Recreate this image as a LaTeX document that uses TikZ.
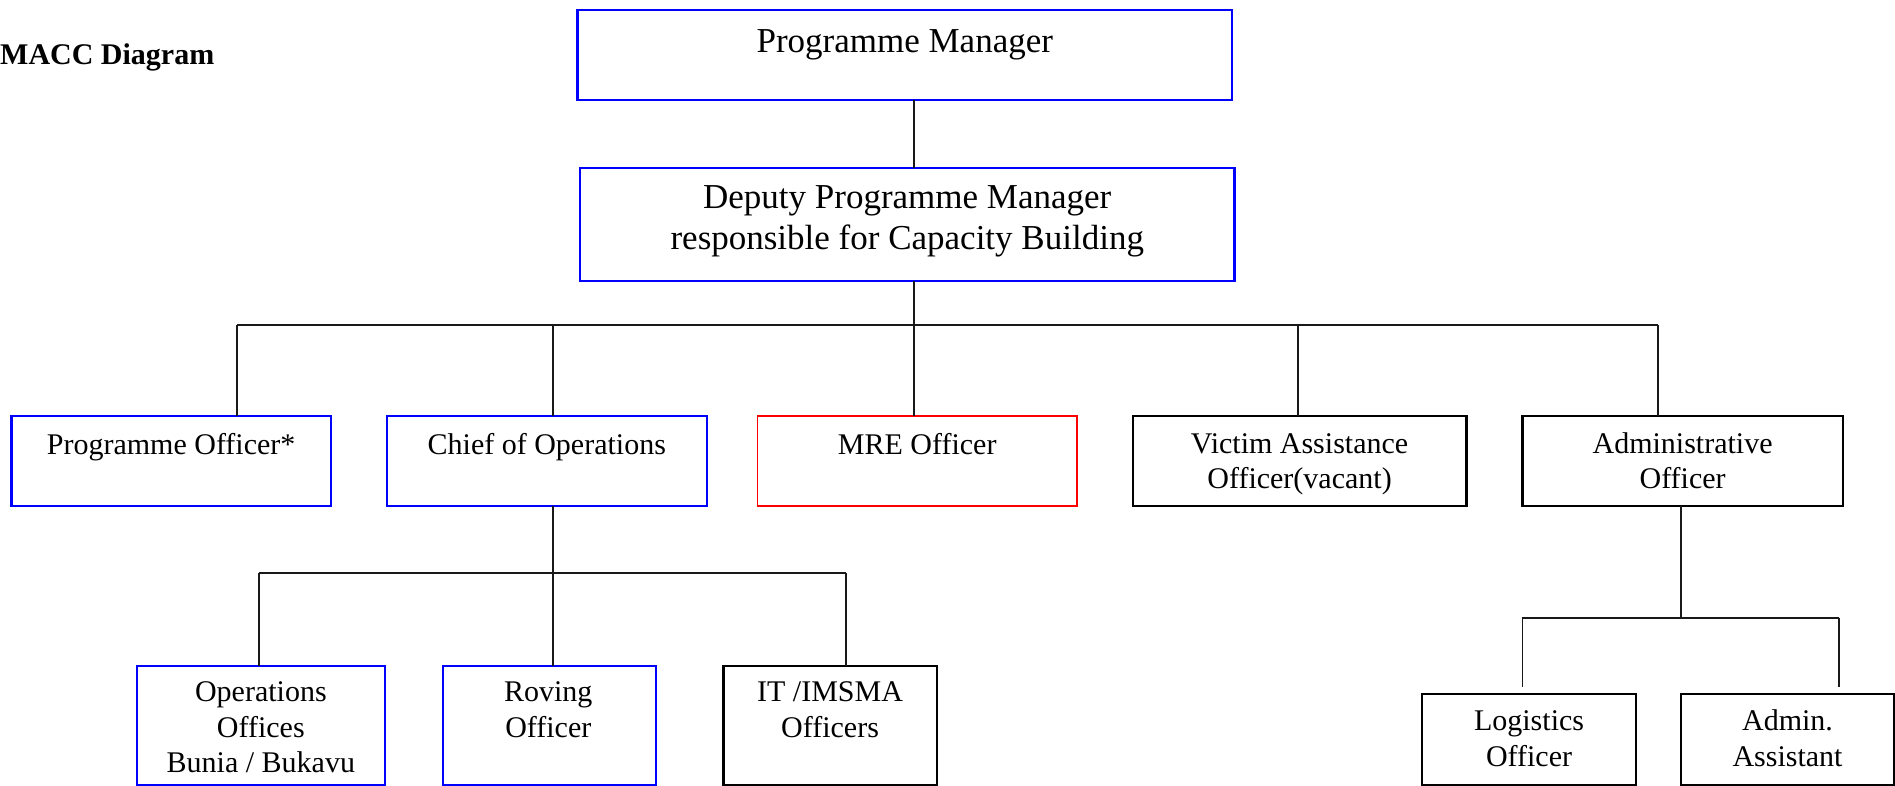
\documentclass[tikz,border=0pt]{standalone}
\usepackage{fontspec}
\setmainfont{Liberation Serif}
\usetikzlibrary{calc}

\begin{document}
\begin{tikzpicture}[x=1pt,y=-1pt,
  box/.style={draw=#1, line width=2.2pt, rectangle, inner sep=0pt, outer sep=0pt},
  box/.default=black,
  conn/.style={draw=black!90, line width=1.8pt},
  big/.style={font=\fontsize{35}{42}\selectfont, align=center, inner sep=0pt, anchor=base},
  mid/.style={font=\fontsize{30}{35}\selectfont, align=center, inner sep=0pt, anchor=base},
  low/.style={font=\fontsize{30}{35.5}\selectfont, align=center, inner sep=0pt, anchor=base},
]
\useasboundingbox (0,0) rectangle (1895,786);

% title
\node[anchor=base west, inner sep=0pt, font=\bfseries\fontsize{30}{36}\selectfont] (title) at (0,65) {MACC Diagram};

% top level (text nodes are placed by the baseline of their last line)
\node[box=blue, minimum width=654.5pt, minimum height=90pt] (pm) at (904.75,54.7) {};
\node[big] (pm-t) at ($(pm.north)+(0,43)$) {Programme Manager};

\node[box=blue, minimum width=654.5pt, minimum height=113pt] (dpm) at (907.25,224.2) {};
\node[big, font=\fontsize{35}{41.7}\selectfont] (dpm-t) at ($(dpm.north)+(0,82.3)$) {Deputy Programme Manager\\responsible for Capacity Building};

% second level
\node[box=blue, minimum width=319.3pt, minimum height=90.3pt] (po) at (171.15,460.85) {};
\node[mid] (po-t) at ($(po.north)+(0,38.3)$) {Programme Officer*};

\node[box=blue, minimum width=320.4pt, minimum height=90.3pt] (coo) at (546.8,460.85) {};
\node[mid] (coo-t) at ($(coo.north)+(0,38.3)$) {Chief of Operations};

\node[box=red, line width=1.8pt, minimum width=319.6pt, minimum height=90.3pt] (mre) at (917.2,460.85) {};
\node[mid] (mre-t) at ($(mre.north)+(0,38.3)$) {MRE Officer};

\node[box, minimum width=333.9pt, minimum height=90.3pt] (va) at (1299.55,460.85) {};
\node[mid] (va-t) at ($(va.north)+(0,73)$) {Victim Assistance\\Officer(vacant)};

\node[box, minimum width=320.2pt, minimum height=90.3pt] (ao) at (1682.6,460.85) {};
\node[mid] (ao-t) at ($(ao.north)+(0,73)$) {Administrative\\Officer};

% third level under Chief of Operations
\node[box=blue, minimum width=247.7pt, minimum height=119.8pt] (ops) at (260.85,725.6) {};
\node[low] (ops-t) at ($(ops.north)+(0,107)$) {Operations\\Offices\\Bunia / Bukavu};

\node[box=blue, minimum width=212.6pt, minimum height=119.8pt] (rov) at (549.3,725.6) {};
\node[low] (rov-t) at ($(rov.north)+(-1,71.5)$) {Roving\\Officer};

\node[box, minimum width=213.3pt, minimum height=119.8pt] (it) at (830.05,725.6) {};
\node[low] (it-t) at ($(it.north)+(0,71.5)$) {IT /IMSMA\\Officers};

% third level under Administrative Officer
\node[box, minimum width=213.7pt, minimum height=91.2pt] (log) at (1529.05,739.9) {};
\node[low, font=\fontsize{30}{36}\selectfont] (log-t) at ($(log.north)+(0,72.4)$) {Logistics\\Officer};

\node[box, minimum width=213pt, minimum height=91.2pt] (adm) at (1787.5,739.9) {};
\node[low, font=\fontsize{30}{36}\selectfont] (adm-t) at ($(adm.north)+(0,72.4)$) {Admin.\\Assistant};

% connector columns and bus levels
\coordinate (tr) at (913.6,0);
\coordinate (xpo) at (237,0);
\coordinate (xcoo) at (552.6,0);
\coordinate (xva) at (1297.8,0);
\coordinate (xao) at (1658,0);
\coordinate (xops) at (259.3,0);
\coordinate (xit) at (845.8,0);
\coordinate (xadm) at (1680.6,0);
\coordinate (xlog) at (1522.4,0);
\coordinate (xasst) at (1838.9,0);
\coordinate (b1) at (0,325);
\coordinate (b2) at (0,573.3);
\coordinate (b3) at (0,617.7);

% top to deputy
\draw[conn] (pm.south -| tr) -- (dpm.north -| tr);

% deputy to second level
\draw[conn] (dpm.south -| tr) -- (b1 -| tr);
\draw[conn] (b1 -| xpo) -- (b1 -| xao);
\draw[conn] (b1 -| xpo) -- (po.north -| xpo);
\draw[conn] (b1 -| xcoo) -- (coo.north -| xcoo);
\draw[conn] (b1 -| tr) -- (mre.north -| tr);
\draw[conn] (b1 -| xva) -- (va.north -| xva);
\draw[conn] (b1 -| xao) -- (ao.north -| xao);

% chief of operations branch
\draw[conn] (coo.south -| xcoo) -- (b2 -| xcoo);
\draw[conn] (b2 -| xops) -- (b2 -| xit);
\draw[conn] (b2 -| xops) -- (ops.north -| xops);
\draw[conn] (b2 -| xcoo) -- (rov.north -| xcoo);
\draw[conn] (b2 -| xit) -- (it.north -| xit);

% administrative branch
\draw[conn] (ao.south -| xadm) -- (b3 -| xadm);
\draw[conn] (b3 -| xlog) -- (b3 -| xasst);
\draw[conn, shorten >=7.6pt] (b3 -| xlog) -- (log.north -| xlog);
\draw[conn, shorten >=7.6pt] (b3 -| xasst) -- (adm.north -| xasst);
\end{tikzpicture}
\end{document}
